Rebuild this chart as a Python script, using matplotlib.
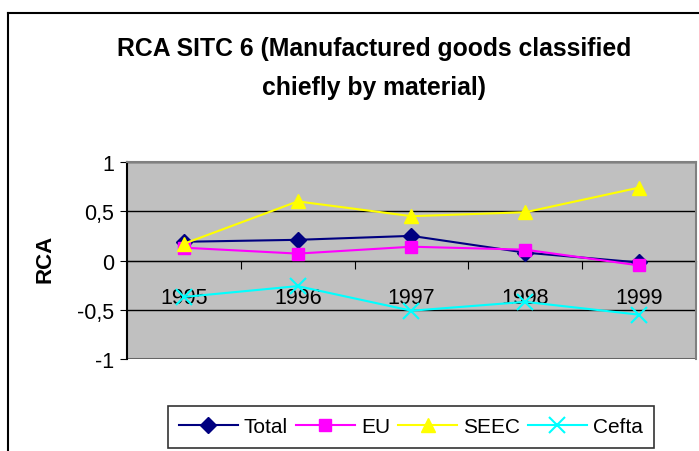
import numpy as np
import matplotlib.pyplot as plt
from matplotlib.lines import Line2D

plt.rcParams['font.family'] = ['Liberation Sans', 'DejaVu Sans']

# ======================
# DATA
# ======================
years = ['1995', '1996', '1997', '1998', '1999']
total = [0.19, 0.21, 0.25, 0.08, -0.02]
eu = [0.13, 0.07, 0.14, 0.11, -0.05]
seec = [0.17, 0.60, 0.45, 0.49, 0.74]
cefta = [-0.37, -0.26, -0.51, -0.42, -0.55]
yticks = [-1, -0.5, 0, 0.5, 1]
ylabels = ['-1', '-0,5', '0', '0,5', '1']

W, H = 699, 452
fig = plt.figure(figsize=(W/100, H/100), dpi=100)
ax = fig.add_axes([127/W, 1-360/H, (696-127)/W, (360-163)/H])
ax.set_facecolor('#C0C0C0')

x = np.arange(len(years))
ax.plot(x, total, color='#000080', marker='D', ms=8, lw=1.5, label='Total')
ax.plot(x, eu, color='#FF00FF', marker='s', ms=8, lw=1.5, label='EU')
ax.plot(x, seec, color='#FFFF00', marker='^', ms=10, lw=1.5, label='SEEC')
ax.plot(x, cefta, color='#00FFFF', marker='x', ms=11, mew=1.5, lw=1.5, label='Cefta')

ax.set_xlim(-0.5, len(years)-0.5)
ax.set_ylim(-1, 1)
ax.set_yticks(yticks)
ax.set_yticklabels(ylabels, fontsize=15.5)
ax.yaxis.grid(True, color='black', lw=1)
ax.set_axisbelow(True)

# x axis at zero, ticks at category boundaries
ax.spines['bottom'].set_position(('data', 0))
ax.spines['bottom'].set_color('black')
ax.spines['bottom'].set_zorder(1)
ax.set_xticks(np.arange(-0.5, len(years), 1.0))
ax.set_xticklabels([])
ax.set_xticks(x, minor=True)
ax.set_xticklabels(years, minor=True, fontsize=15.5)
ax.tick_params(axis='x', which='major', direction='out', length=6, color='black')
ax.tick_params(axis='x', which='minor', length=0, pad=19)
ax.tick_params(axis='y', direction='out', length=5, color='black', pad=4)

ax.spines['left'].set_color('black')
ax.spines['left'].set_linewidth(1.5)
for s in ['top', 'right']:
    ax.spines[s].set_color('#808080')
    ax.spines[s].set_linewidth(1.5)

# extra border at bottom of plot area
ax.axhline(-1, color='#808080', lw=1.5, zorder=0.5)

fig.text(374/W, 1-68.5/H, 'RCA SITC 6 (Manufactured goods classified\nchiefly by material)',
         ha='center', va='center', fontsize=17.8, fontweight='bold', linespacing=1.75)
fig.text(45/W, 1-259/H, 'RCA', rotation=90, ha='center', va='center',
         fontsize=16, fontweight='bold')

leg = ax.legend(loc='upper center', bbox_to_anchor=(411/W, 1-407/H),
                bbox_transform=fig.transFigure, ncol=4, fontsize=15,
                frameon=True, fancybox=False, edgecolor='black',
                handlelength=2.8, columnspacing=0.4, handletextpad=0.3,
                borderpad=0.55, borderaxespad=0)
leg.get_frame().set_linewidth(1.2)

# chart area border (cropped on right and bottom)
fig.add_artist(Line2D([8/W, 8/W], [0, 1-14/H], color='black', lw=1.5))
fig.add_artist(Line2D([8/W, 1], [1-14/H, 1-14/H], color='black', lw=1.5))

fig.savefig('out.png', dpi=100)
